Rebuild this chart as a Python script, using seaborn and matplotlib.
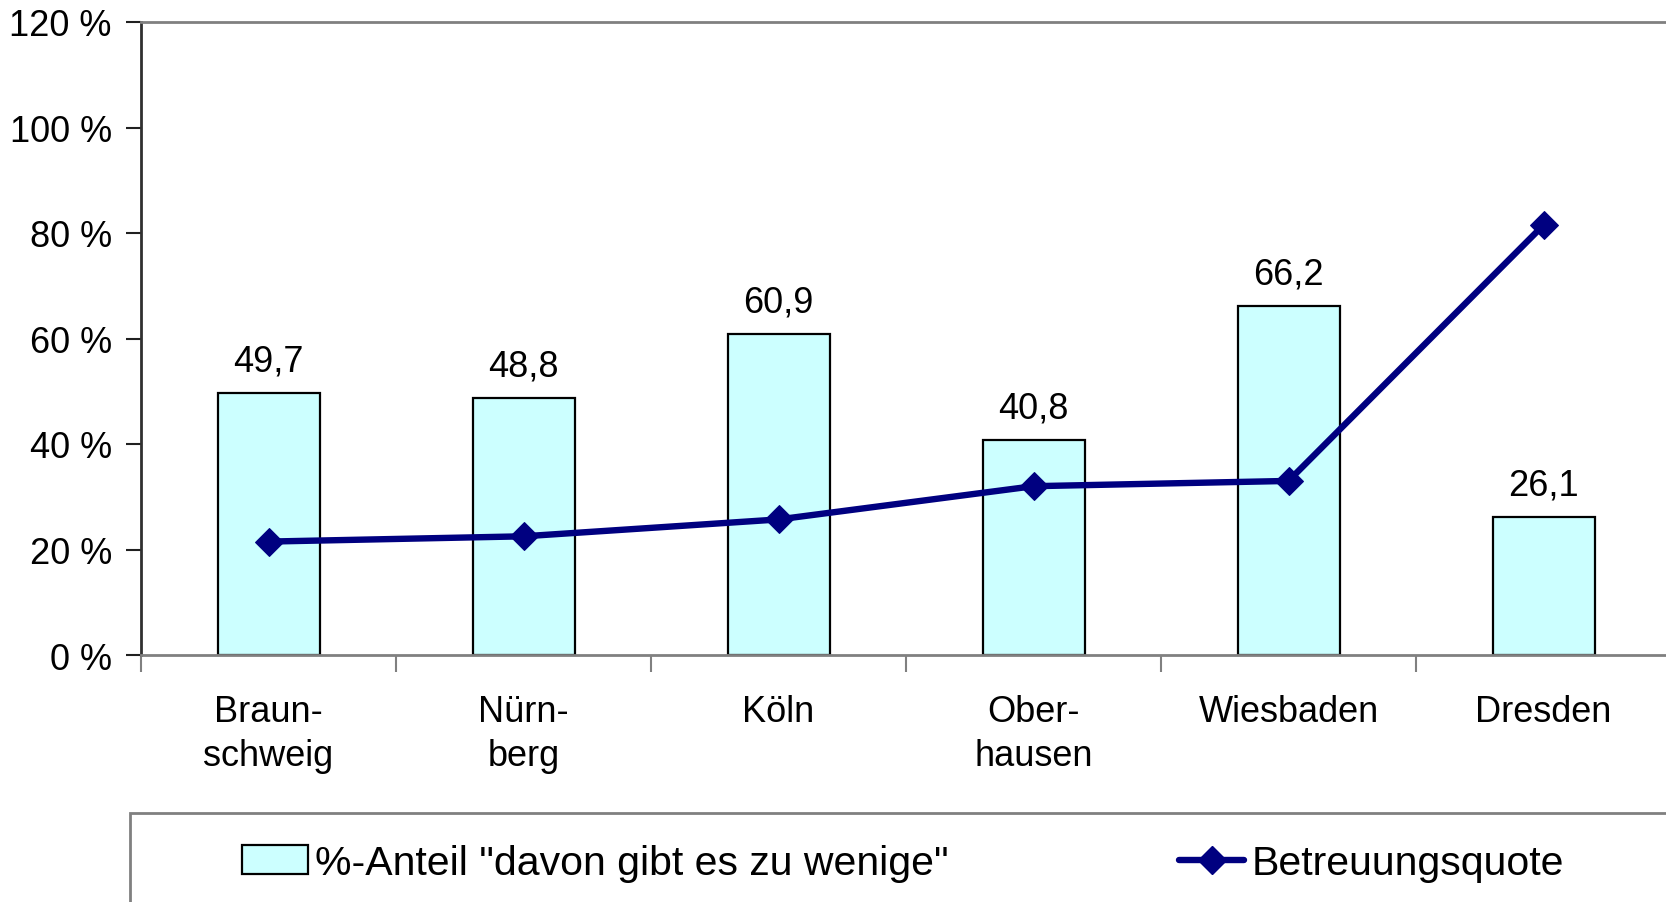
import numpy as np
import pandas as pd
import matplotlib
matplotlib.use("Agg")
import matplotlib.pyplot as plt
from matplotlib.patches import Rectangle
from matplotlib.lines import Line2D
from matplotlib.patches import Patch
import seaborn as sns

# Data
staedte = ["Braun-\nschweig", "Nürn-\nberg", "Köln", "Ober-\nhausen", "Wiesbaden", "Dresden"]
anteil_zu_wenige = [49.7, 48.8, 60.9, 40.8, 66.2, 26.1]
betreuungsquote = [21.5, 22.5, 25.7, 32.0, 33.0, 81.5]
y_ticks = [0, 20, 40, 60, 80, 100, 120]
bar_label = '%-Anteil "davon gibt es zu wenige"'
line_label = "Betreuungsquote"

sns.set_theme(style="white")
plt.rcParams["font.family"] = ["Liberation Sans", "DejaVu Sans"]
plt.rcParams["text.color"] = "black"
plt.rcParams["xtick.labelcolor"] = "black"
plt.rcParams["ytick.labelcolor"] = "black"

W, H = 1666, 903
fig = plt.figure(figsize=(W / 100, H / 100), dpi=100)
ax = fig.add_axes([141 / W, 1 - 656 / H, 1530 / W, 633 / H])

df = pd.DataFrame({"stadt": staedte, "anteil": anteil_zu_wenige})
sns.barplot(data=df, x="stadt", y="anteil", ax=ax, width=0.4,
            color="#CCFFFF", saturation=1, edgecolor="black", linewidth=1.6,
            zorder=2)

sns.lineplot(x=np.arange(len(staedte)), y=betreuungsquote, ax=ax,
             color="#000080", linewidth=4.6, marker="D", markersize=14,
             markeredgecolor="#000080", zorder=4)

# value labels above bars
for i, v in enumerate(anteil_zu_wenige):
    ax.annotate(f"{v:.1f}".replace(".", ","), (i, v), xytext=(0, 23),
                textcoords="offset points", ha="center", va="center",
                fontsize=26, color="black")

ax.set_xlim(-0.5, len(staedte) - 0.5)
ax.set_ylim(0, 120)
ax.set_yticks(y_ticks)
ax.set_yticklabels([f"{t} %" for t in y_ticks])
ax.set_xlabel("")
ax.set_ylabel("")

# category boundary ticks on x axis
ax.set_xticks(np.arange(len(staedte)))
ax.set_xticklabels(staedte, fontsize=26, linespacing=1.35)
ax.set_xticks(np.arange(len(staedte)) - 0.5, minor=True)
ax.tick_params(axis="x", which="major", length=0, pad=28)
ax.tick_params(axis="x", which="minor", length=12, width=1.5, color="#808080",
               direction="out", bottom=True)
ax.tick_params(axis="y", length=11, width=1.5, color="#202020", pad=10,
               labelsize=26, left=True, direction="out")

for side in ["top", "bottom", "right"]:
    ax.spines[side].set_color("#808080")
    ax.spines[side].set_linewidth(2)
ax.spines["left"].set_color("#303030")
ax.spines["left"].set_linewidth(2)

# legend box
fig.patches.append(Rectangle((130 / W, -0.1), 1.2, 1 - 814 / H + 0.1,
                             transform=fig.transFigure, fill=False,
                             edgecolor="#808080", linewidth=2))
handles = [Patch(facecolor="#CCFFFF", edgecolor="black", linewidth=1.6),
           Line2D([0], [0], color="#000080", linewidth=4.6, marker="D",
                  markersize=14)]
fig.legend(handles, [bar_label, line_label], loc="center left",
           bbox_to_anchor=(242 / W, 1 - 864 / H), ncol=2, frameon=False,
           fontsize=29.5, handlelength=1.6, handleheight=0.7,
           handletextpad=0.18, columnspacing=5.62, borderaxespad=0,
           borderpad=0)

fig.savefig("out.png", dpi=100)
